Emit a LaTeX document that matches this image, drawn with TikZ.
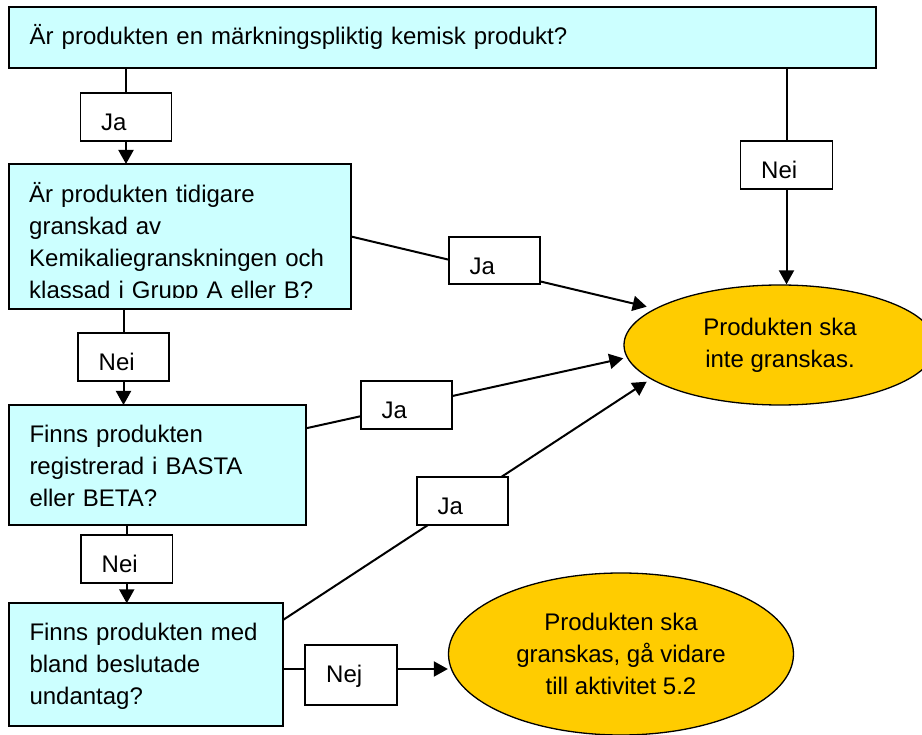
\documentclass[tikz,border=0pt]{standalone}
\usepackage{fontspec}
\setmainfont{Liberation Sans}
\usetikzlibrary{arrows.meta,shapes.geometric,calc,backgrounds}
\definecolor{qcyan}{HTML}{CCFFFF}
\definecolor{ayellow}{HTML}{FFCC00}
\begin{document}
\begin{tikzpicture}[x=1pt,y=-1pt,
  qbox/.style={draw=black, line width=1.7pt, fill=qcyan, rectangle, inner sep=0pt, outer sep=0pt, anchor=north west},
  lbox/.style={draw=black, line width=1.7pt, fill=white, rectangle, inner sep=0pt, outer sep=0pt, anchor=north west},
  qtext/.style={anchor=base west, inner sep=0pt, text width=#1, align=left, font=\fontsize{24}{31.7}\selectfont},
  ltext/.style={anchor=base west, inner sep=0pt, font=\fontsize{24}{28}\selectfont},
  endnode/.style={ellipse, draw=black, line width=1.3pt, fill=ayellow, inner sep=0pt, align=center, font=\fontsize{24}{31.7}\selectfont},
  arr/.style={line width=2pt, -{Triangle[length=14pt,width=15pt]}}
]
\useasboundingbox (0,0) rectangle (922,735);

% question boxes
\node[qbox, minimum width=867pt, minimum height=61pt] (q1) at (9,7) {};
\node[qtext=850pt] (t1) at ($(q1.north west)+(20.5,38)$) {Är produkten en märkningspliktig kemisk produkt?};

\node[qbox, minimum width=342pt, minimum height=145pt] (q2) at (9,164) {};
\begin{scope}
  \clip (9,164) rectangle (351,298);
  \node[qtext=320pt] (t2) at ($(q2.north west)+(20,39)$) {Är produkten tidigare\\granskad av\\Kemikaliegranskningen och\\klassad i Grupp A eller B?};
\end{scope}

\node[qbox, minimum width=297pt, minimum height=120pt] (q3) at (9,405) {};
\node[qtext=280pt] (t3) at ($(q3.north west)+(20.3,37.7)$) {Finns produkten\\registrerad i BASTA\\eller BETA?};

\node[qbox, minimum width=274pt, minimum height=122.4pt] (q4) at (9,603.3) {};
\node[qtext=260pt] (t4) at ($(q4.north west)+(20.3,37.4)$) {Finns produkten med\\bland beslutade\\undantag?};

% end states
\node[endnode, minimum width=312pt, minimum height=120pt] (e1) at (780,345) {Produkten ska\\inte granskas.};
\node[endnode, minimum width=345pt, minimum height=162pt] (e2) at (621,654) {Produkten ska\\granskas, gå vidare\\till aktivitet 5.2};

% label boxes
\node[lbox, minimum width=91pt, minimum height=48pt] (l1) at (80.5,93) {};
\node[ltext] (j1) at ($(l1.north west)+(20.5,37.5)$) {Ja};
\node[lbox, minimum width=92pt, minimum height=48pt] (l2) at (740.5,141) {};
\node[ltext] (j2) at ($(l2.north west)+(20.5,37.5)$) {Nei};
\node[lbox, minimum width=91pt, minimum height=47pt] (l3) at (449,237) {};
\node[ltext] (j3) at ($(l3.north west)+(20.5,37.5)$) {Ja};
\node[lbox, minimum width=91pt, minimum height=48pt] (l4) at (78,333) {};
\node[ltext] (j4) at ($(l4.north west)+(20.5,37.5)$) {Nei};
\node[lbox, minimum width=91pt, minimum height=48pt] (l5) at (361,381) {};
\node[ltext] (j5) at ($(l5.north west)+(20.5,37.5)$) {Ja};
\node[lbox, minimum width=91pt, minimum height=48pt] (l6) at (417,477) {};
\node[ltext] (j6) at ($(l6.north west)+(20.5,37.5)$) {Ja};
\node[lbox, minimum width=91.5pt, minimum height=48pt] (l7) at (81,535) {};
\node[ltext] (j7) at ($(l7.north west)+(20.5,37.5)$) {Nei};
\node[lbox, minimum width=92pt, minimum height=60pt] (l8) at (305,645) {};
\node[ltext] (j8) at ($(l8.north west)+(21,37.5)$) {Nej};

% connectors (behind everything)
\begin{pgfonlayer}{background}
  \draw[arr] (l1.center |- q1.south) -- (l1.center |- q2.north);
  \draw[arr] (l2.center |- q1.south) -- (l2.center |- e1.north);
  \draw[arr] (q2.east) -- ($(e1.center)+(-133.3,-38.3)$);
  \draw[arr] (l4.center |- q2.south) -- (l4.center |- q3.north);
  \draw[arr] ([yshift=36.7pt]q3.east) -- ($(e1.center)+(-156.7,13.3)$);
  \draw[arr] (l7.center |- q3.south) -- (l7.center |- q4.north);
  \draw[arr] ([yshift=-16.7pt]q4.north east) -- ($(e1.center)+(-133.3,36.7)$);
  \draw[arr] ([yshift=-4.5pt]q4.east) -- ([yshift=-4.5pt]q4.east -| e2.west);
\end{pgfonlayer}
\end{tikzpicture}
\end{document}
